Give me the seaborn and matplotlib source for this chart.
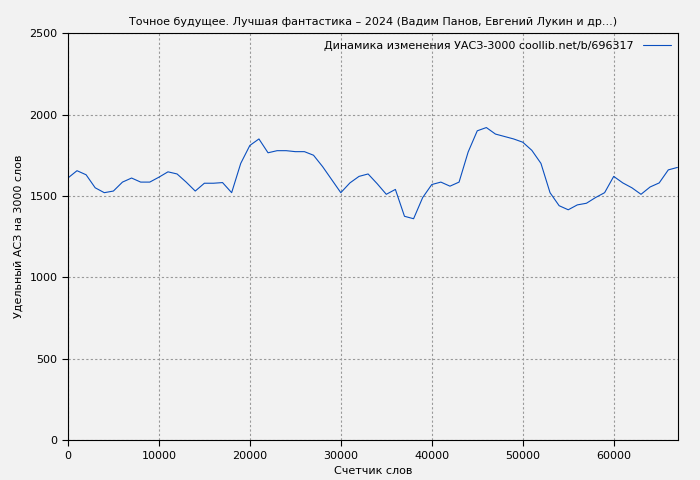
import matplotlib
matplotlib.use("Agg")
import matplotlib.pyplot as plt
import seaborn as sns
import pandas as pd

words = list(range(0, 68000, 1000))
acs = [1610, 1655, 1630, 1550, 1520, 1530, 1585, 1610, 1585, 1585,
       1615, 1648, 1635, 1585, 1530, 1578, 1578, 1582, 1520, 1700,
       1810, 1850, 1765, 1778, 1778, 1772, 1772, 1750, 1680, 1600,
       1520, 1580, 1620, 1635, 1575, 1510, 1540, 1375, 1360, 1490,
       1570, 1585, 1560, 1585, 1770, 1900, 1920, 1880, 1865, 1850,
       1830, 1780, 1700, 1520, 1440, 1415, 1445, 1455, 1490, 1520,
       1620, 1580, 1550, 1510, 1555, 1580, 1660, 1675]

df = pd.DataFrame({"x": words, "y": acs})

sns.set_style("ticks")
plt.rcParams["font.family"] = ["DejaVu Sans"]
plt.rcParams["font.size"] = 8
plt.rcParams["text.color"] = "black"
plt.rcParams["axes.labelcolor"] = "black"
plt.rcParams["xtick.color"] = "black"
plt.rcParams["ytick.color"] = "black"

fig, ax = plt.subplots(figsize=(7, 4.8), dpi=100)
fig.patch.set_facecolor("#f2f2f2")
ax.set_facecolor("#f2f2f2")
sns.lineplot(data=df, x="x", y="y", ax=ax, color="#0a4fbf", linewidth=0.8,
             label="Динамика изменения УАСЗ-3000 coollib.net/b/696317")

ax.set_xlim(0, 67100)
ax.set_ylim(0, 2500)
ax.set_xticks(range(0, 67000, 10000))
ax.set_yticks(range(0, 2501, 500))
ax.grid(True, color="#999999", linestyle=(0, (2, 2)), linewidth=0.8)
ax.tick_params(labelsize=8, direction="out", length=4)
ax.set_xlabel("Счетчик слов", fontsize=8)
ax.set_ylabel("Удельный АСЗ на 3000 слов", fontsize=8)
ax.set_title("Точное будущее. Лучшая фантастика – 2024 (Вадим Панов, Евгений Лукин и др...)", fontsize=8)
ax.legend(loc="upper right", frameon=False, markerfirst=False, fontsize=8,
          borderaxespad=0.3, handlelength=2.5)
for s in ax.spines.values():
    s.set_color("black")

fig.subplots_adjust(left=0.097, right=0.969, top=0.931, bottom=0.083)
fig.savefig("out.png", dpi=100, facecolor=fig.get_facecolor())
